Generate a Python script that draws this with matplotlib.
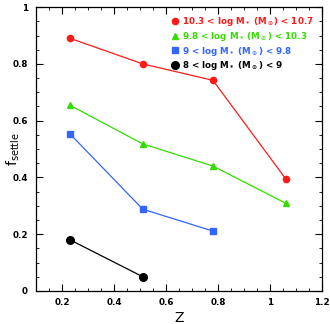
import matplotlib
matplotlib.use('Agg')
import matplotlib.pyplot as plt
from matplotlib.lines import Line2D
from matplotlib.ticker import MultipleLocator

plt.rcParams['font.family'] = ['DejaVu Sans']
plt.rcParams['mathtext.default'] = 'bf'

z_red = [0.23, 0.51, 0.78, 1.06]
f_red = [0.89, 0.80, 0.742, 0.395]
z_green = [0.23, 0.51, 0.78, 1.06]
f_green = [0.654, 0.518, 0.44, 0.309]
z_blue = [0.23, 0.51, 0.78]
f_blue = [0.553, 0.288, 0.211]
z_black = [0.23, 0.51]
f_black = [0.18, 0.05]

labels = [
    r'10.3 < log M$_*$ (M$_\odot$) < 10.7',
    r'9.8 < log M$_*$ (M$_\odot$) < 10.3',
    r'9 < log M$_*$ (M$_\odot$) < 9.8',
    r'8 < log M$_*$ (M$_\odot$) < 9',
]
colors = ['#ff1a1a', '#33dd00', '#3366ff', 'black']
markers = ['o', '^', 's', 'o']
sizes = [4.5, 4.5, 4, 5.5]

fig = plt.figure(figsize=(3.3, 3.24), dpi=100)
ax = fig.add_axes([0.11, 0.102, 0.866, 0.876])

series = [(z_red, f_red), (z_green, f_green), (z_blue, f_blue), (z_black, f_black)]
for (z, f), c, m, s in zip(series, colors, markers, sizes):
    ax.plot(z, f, color=c, lw=0.9, marker=m, ms=s, mec=c, mfc=c)

ax.set_xlim(0.1, 1.2)
ax.set_ylim(0, 1)
ax.xaxis.set_minor_locator(MultipleLocator(0.05))
ax.yaxis.set_minor_locator(MultipleLocator(0.05))
ax.set_xticks([0.2, 0.4, 0.6, 0.8, 1.0, 1.2])
ax.set_xticklabels(['0.2', '0.4', '0.6', '0.8', '1', '1.2'])
ax.set_yticks([0, 0.2, 0.4, 0.6, 0.8, 1.0])
ax.set_yticklabels(['0', '0.2', '0.4', '0.6', '0.8', '1'])
ax.tick_params(which='both', direction='in', top=True, right=True, labelsize=6.3)
ax.tick_params(axis='x', pad=5)
ax.tick_params(axis='y', pad=6)
ax.tick_params(which='major', length=5, width=0.8)
ax.tick_params(which='minor', length=2.5, width=0.6)
for lab in ax.get_xticklabels() + ax.get_yticklabels():
    lab.set_fontweight('bold')
for sp in ax.spines.values():
    sp.set_linewidth(0.9)

ax.set_xlabel('Z', fontsize=10, labelpad=3)
ax.set_ylabel(r'f$_{\mathrm{settle}}$', fontsize=10)
ax.yaxis.set_label_coords(-0.05, 0.5)

handles = [Line2D([], [], ls='none', marker=m, color=c, ms=s) for c, m, s in zip(colors, markers, sizes)]
leg = ax.legend(handles, labels, loc='upper right', frameon=False, fontsize=6.3,
                handlelength=0.6, handletextpad=0.5, labelspacing=0.2,
                borderaxespad=0.2, borderpad=0.7)
for t, c in zip(leg.get_texts(), colors):
    t.set_color(c)
    t.set_fontweight('bold')

fig.savefig('out.png', dpi=100)
